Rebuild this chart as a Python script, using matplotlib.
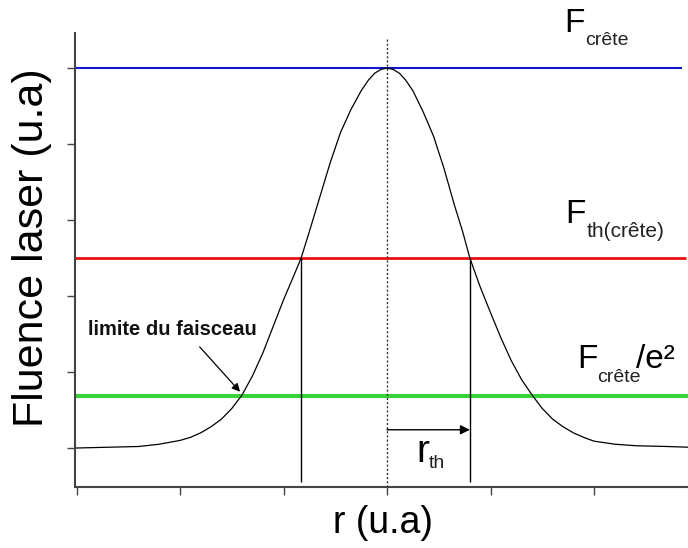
import numpy as np
import matplotlib
matplotlib.use("Agg")
import matplotlib.pyplot as plt

plt.rcParams["font.family"] = ["Liberation Sans", "DejaVu Sans"]

# beam profile
r_vals = [-3.0, -2.7, -2.4, -2.2, -2.0, -1.9, -1.8, -1.7, -1.6, -1.5,
          -1.4, -1.3, -1.2, -1.1, -1.0, -0.9, -0.83, -0.75, -0.65, -0.55,
          -0.45, -0.35, -0.25, -0.18, -0.12, -0.06, 0.0, 0.06, 0.12, 0.18,
          0.25, 0.35, 0.45, 0.55, 0.65, 0.73, 0.8, 0.9, 1.0, 1.1,
          1.2, 1.3, 1.4, 1.5, 1.6, 1.7, 1.8, 1.9, 2.0, 2.2,
          2.4, 2.7, 2.92]
fluence = [0.0, 0.01, 0.02, 0.05, 0.10, 0.14, 0.20, 0.28, 0.38, 0.52,
           0.70, 0.95, 1.25, 1.6, 1.95, 2.27, 2.5, 2.85, 3.3, 3.75,
           4.15, 4.45, 4.7, 4.84, 4.93, 4.98, 5.0, 4.98, 4.93, 4.84,
           4.7, 4.42, 4.1, 3.68, 3.2, 2.85, 2.5, 2.12, 1.78, 1.45,
           1.15, 0.9, 0.70, 0.52, 0.38, 0.28, 0.20, 0.14, 0.09, 0.05,
           0.03, 0.02, 0.01]

# reference levels
level_names = ["crete", "seuil", "e2"]
level_values = [5.0, 2.5, 0.68]
level_colors = ["#1414d2", "#e81010", "#3ad23a"]
level_widths = [1.5, 2.0, 3.0]
level_ends = [2.85, 2.89, 2.92]

# threshold radii (where the red line meets the curve)
r_th_left = -0.83
r_th_right = 0.80
arrow_y = 0.24

xticks = [-3, -2, -1, 0, 1, 2]
yticks = [0, 1, 2, 3, 4, 5]

fig = plt.figure(figsize=(6.88, 5.48), dpi=100)
ax = fig.add_axes([75 / 688, 61 / 548, 613 / 688, 454 / 548])
ax.set_xlim(-3.015, 2.908)
ax.set_ylim(-0.513, 5.46)

for val, col, lw, xend in zip(level_values, level_colors, level_widths, level_ends):
    ax.hlines(val, -3.015, xend, colors=col, linewidth=lw, zorder=2)

ax.plot(r_vals, fluence, color="black", linewidth=0.9, zorder=3)

ax.vlines([r_th_left, r_th_right], -0.45, level_values[1],
          colors="black", linewidth=1.0, zorder=3)
ax.vlines(0, -0.513, 5.39, colors="#333333", linewidth=1.0,
          linestyles=(0, (1.5, 1.5)), zorder=3)

ax.annotate("", xy=(r_th_right, arrow_y), xytext=(0, arrow_y),
            arrowprops=dict(arrowstyle="-|>", color="black", lw=1.0,
                            mutation_scale=14, shrinkA=0, shrinkB=0))
ax.annotate("", xy=(-1.42, 0.74), xytext=(-1.81, 1.33),
            arrowprops=dict(arrowstyle="-|>", color="black", lw=0.9,
                            mutation_scale=12, shrinkA=0, shrinkB=0))

# labels
ax.text(1.71, 5.47, "F", fontsize=24, ha="left", va="baseline")
ax.text(1.91, 5.30, "crête", fontsize=14, ha="left", va="baseline", color="#222222")
ax.text(1.72, 2.96, "F", fontsize=24, ha="left", va="baseline")
ax.text(1.93, 2.78, "th(crête)", fontsize=15, ha="left", va="baseline", color="#222222")
ax.text(1.84, 1.05, "F", fontsize=24, ha="left", va="baseline")
ax.text(2.03, 0.87, "crête", fontsize=14, ha="left", va="baseline", color="#222222")
ax.text(2.41, 1.05, "/e²", fontsize=24, ha="left", va="baseline")
ax.text(0.28, -0.18, "r", fontsize=28, ha="left", va="baseline")
ax.text(0.40, -0.26, "th", fontsize=14, ha="left", va="baseline", color="#222222")
ax.text(-2.89, 1.49, "limite du faisceau", fontsize=14.5, fontweight="bold",
        ha="left", va="baseline", color="#111111")

fig.text(32 / 688, 1 - 248 / 548, "Fluence laser (u.a)", fontsize=31,
         rotation=90, ha="center", va="center")
fig.text(383 / 688, 1 - 523 / 548, "r (u.a)", fontsize=27,
         ha="center", va="center")

for side in ["top", "right"]:
    ax.spines[side].set_visible(False)
for side in ["left", "bottom"]:
    ax.spines[side].set_color("#444444")
    ax.spines[side].set_linewidth(1.5)

ax.set_xticks(xticks)
ax.set_yticks(yticks)
ax.set_xticklabels([])
ax.set_yticklabels([])
ax.tick_params(direction="out", length=6, width=1.0, color="#444444")

fig.savefig("out.png", dpi=100)
